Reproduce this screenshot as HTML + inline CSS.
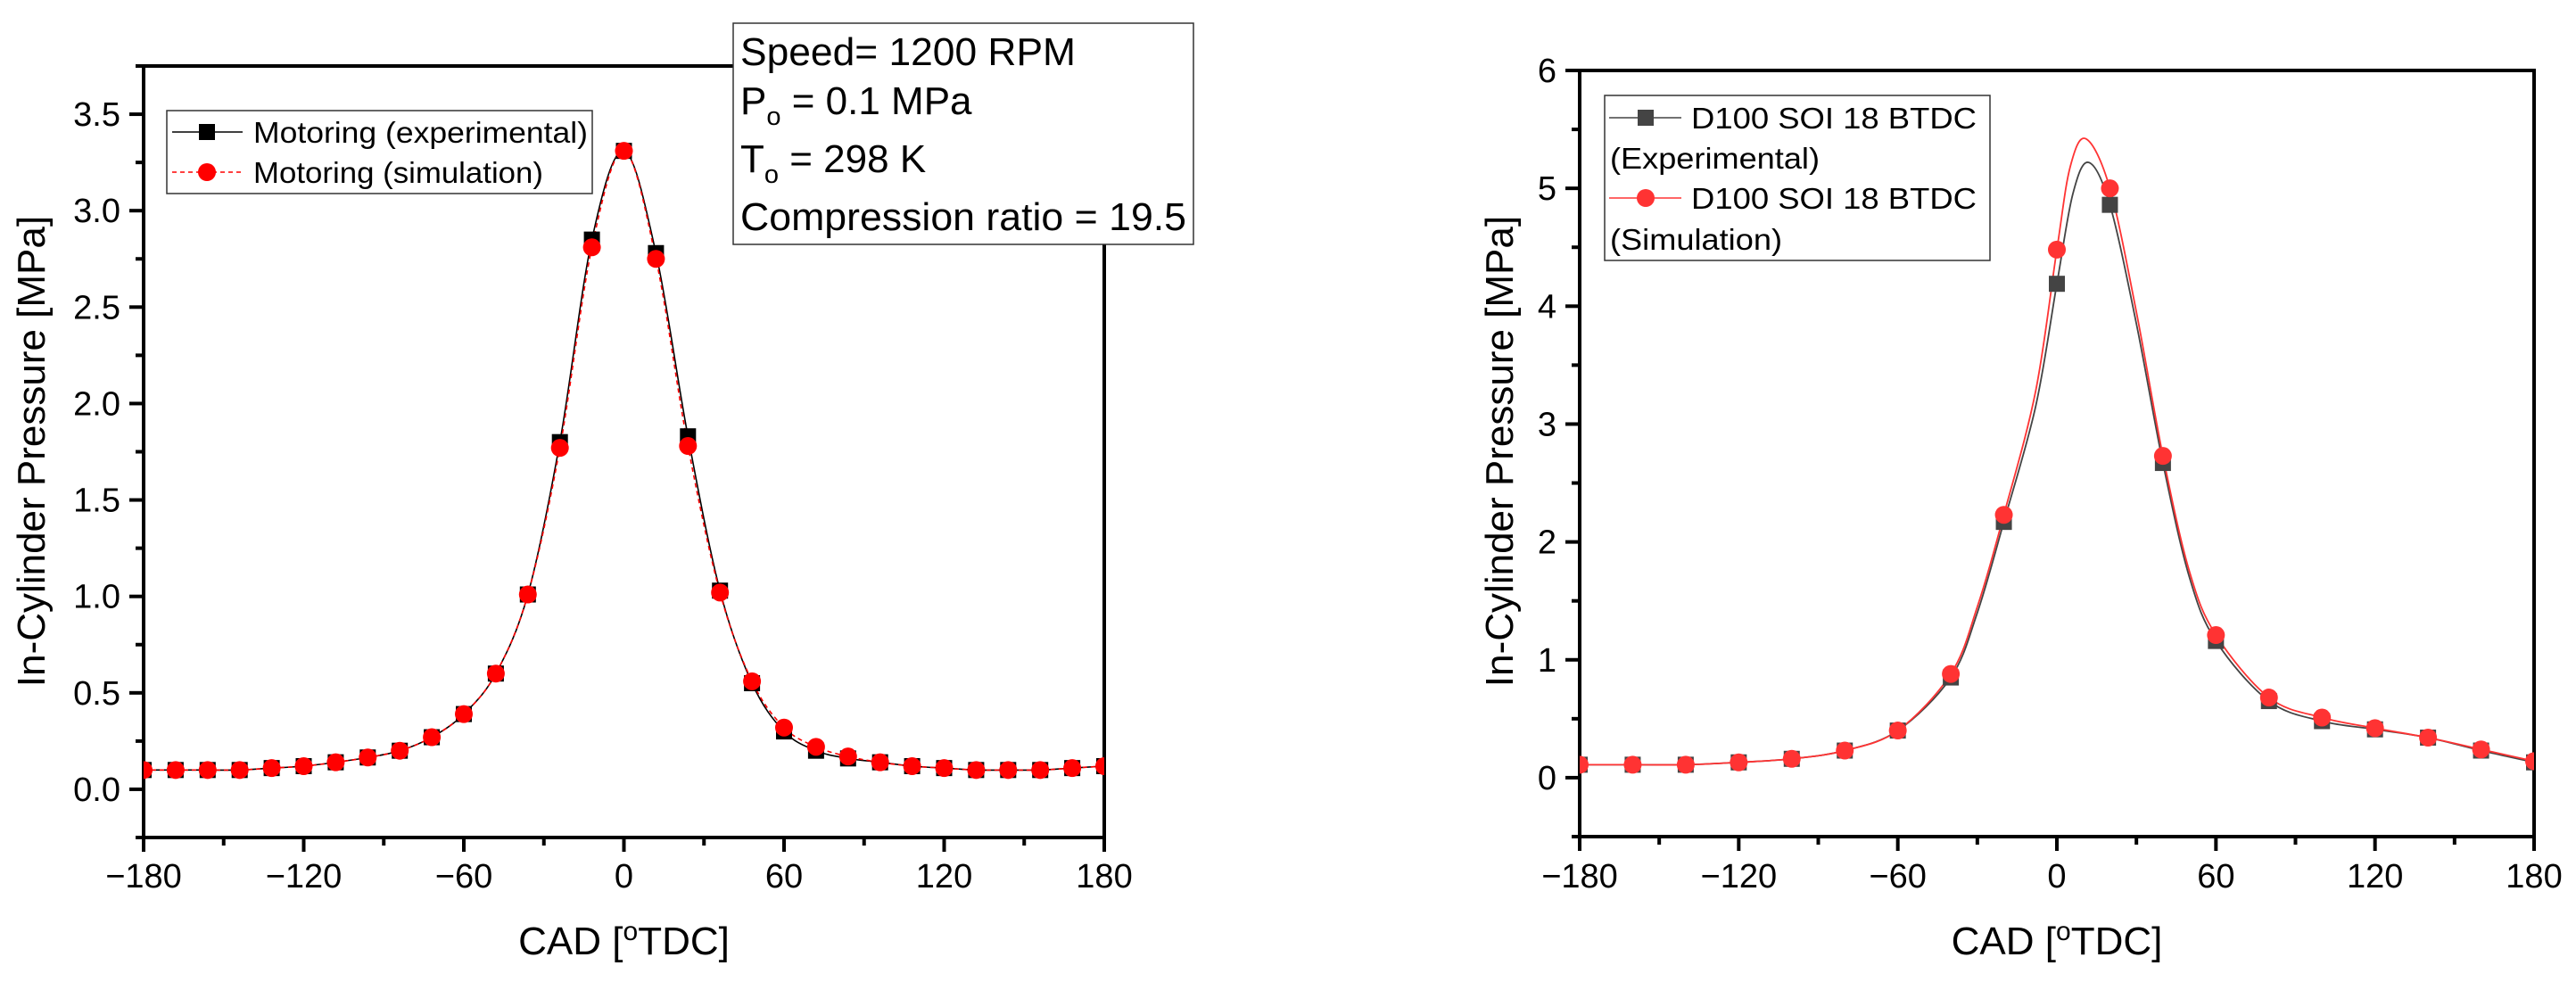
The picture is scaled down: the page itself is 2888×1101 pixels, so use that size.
<!DOCTYPE html>
<html><head><meta charset="utf-8"><title>In-Cylinder Pressure Charts</title>
<style>
html,body{margin:0;padding:0;background:#fff;}
svg{display:block;font-family:"Liberation Sans",Arial,sans-serif;}
</style></head>
<body>
<svg id="fig" width="2888" height="1101" viewBox="0 0 2888 1101" xmlns="http://www.w3.org/2000/svg">
<rect x="0" y="0" width="2888" height="1101" fill="#fff"/>
<g id="left"></g>
<g id="right"></g>
</svg>
<script>
// ---------- Left chart data ----------
const leftCad = [-180,-168,-156,-144,-132,-120,-108,-96,-84,-72,-60,-48,-36,-24,-12,0,12,24,36,48,60,72,84,96,108,120,132,144,156,168,180];
const leftExp = [0.10,0.10,0.10,0.10,0.11,0.12,0.14,0.165,0.20,0.27,0.39,0.60,1.01,1.80,2.85,3.31,2.78,1.83,1.03,0.55,0.30,0.20,0.16,0.14,0.12,0.11,0.10,0.10,0.10,0.11,0.12];
const leftSim = [0.10,0.10,0.10,0.10,0.11,0.12,0.14,0.165,0.20,0.27,0.39,0.60,1.01,1.77,2.81,3.31,2.75,1.78,1.02,0.56,0.32,0.22,0.17,0.14,0.12,0.11,0.10,0.10,0.10,0.11,0.12];
const leftYTicks = ["0.0","0.5","1.0","1.5","2.0","2.5","3.0","3.5"];
const leftXTicks = ["\u2212180","\u2212120","\u221260","0","60","120","180"];

// ---------- Right chart data ----------
const rightCad = [-180,-160,-140,-120,-100,-80,-60,-40,-20,0,20,40,60,80,100,120,140,160,180];
const rightExp = [0.11,0.11,0.11,0.13,0.16,0.23,0.40,0.85,2.17,4.19,4.86,2.67,1.16,0.65,0.48,0.41,0.34,0.23,0.13];
const rightSim = [0.11,0.11,0.11,0.13,0.16,0.23,0.40,0.88,2.23,4.48,5.00,2.73,1.21,0.68,0.51,0.42,0.34,0.24,0.14];
// extra curve nodes (line passes through these as well as the markers)
const rightExpCurveCad = [-30,-8,6,12,30,50];
const rightExpCurveVal = [1.40,3.15,4.95,5.22,3.85,1.70];
const rightSimCurveCad = [-30,-8,5,11,30,50];
const rightSimCurveVal = [1.45,3.28,5.18,5.42,3.95,1.75];
const rightYTicks = ["0","1","2","3","4","5","6"];
const rightXTicks = ["\u2212180","\u2212120","\u221260","0","60","120","180"];

const NS = "http://www.w3.org/2000/svg";
function mk(parent, tag, attrs){ const e=document.createElementNS(NS,tag); for(const k in attrs) e.setAttribute(k,attrs[k]); parent.appendChild(e); return e; }

function spline(pts){
  if(pts.length<2) return "";
  let d="M"+pts[0][0].toFixed(2)+","+pts[0][1].toFixed(2);
  for(let i=0;i<pts.length-1;i++){
    const p0=pts[i-1]||pts[i], p1=pts[i], p2=pts[i+1], p3=pts[i+2]||p2;
    const c1=[p1[0]+(p2[0]-p0[0])/6, p1[1]+(p2[1]-p0[1])/6];
    const c2=[p2[0]-(p3[0]-p1[0])/6, p2[1]-(p3[1]-p1[1])/6];
    d+=" C"+c1[0].toFixed(2)+","+c1[1].toFixed(2)+" "+c2[0].toFixed(2)+","+c2[1].toFixed(2)+" "+p2[0].toFixed(2)+","+p2[1].toFixed(2);
  }
  return d;
}
function merge(xa,ya,xb,yb){
  const arr=xa.map((x,i)=>[x,ya[i]]).concat(xb.map((x,i)=>[x,yb[i]]));
  arr.sort((a,b)=>a[0]-b[0]); return arr;
}

function axes(g, o){
  const {x0,x1,y0,y1,xmin,xmax,ymin,ymax}=o;
  const X=v=>x0+(v-xmin)/(xmax-xmin)*(x1-x0);
  const Y=v=>y1-(v-ymin)/(ymax-ymin)*(y1-y0);
  let e=mk(g,"rect",{x:x0,y:y0,width:x1-x0,height:y1-y0,fill:"none",stroke:"#000","stroke-width":4});
  
  
  for(let v=xmin; v<=xmax; v+=30){
    const major = (v%60===0);
    e=mk(g,"line",{x1:X(v),x2:X(v),y1:y1,y2:y1+(major?16:9),stroke:"#000","stroke-width":4});
    
    
  }
  o.xTicks.forEach((lab,i)=>{
    const v=-180+i*60;
    e=mk(g,"text",{x:X(v),y:995,"font-size":38,"text-anchor":"middle",fill:"#000"});
    e.textContent=lab;
    
    
  });
  for(let k=0;;k++){
    const v=ymin+k*o.minorStep; if(v>ymax+1e-9) break;
    const major=Math.abs(Math.round((v-o.majorStart)/o.majorStep)*o.majorStep-(v-o.majorStart))<1e-6;
    e=mk(g,"line",{x1:x0,x2:x0-(major?16:9),y1:Y(v),y2:Y(v),stroke:"#000","stroke-width":4});
    
    
  }
  o.yTicks.forEach((lab,i)=>{
    const v=o.majorStart+i*o.majorStep;
    e=mk(g,"text",{x:x0-26,y:Y(v)+13,"font-size":38,"text-anchor":"end",fill:"#000"});
    e.textContent=lab;
    
    
  });
  e=mk(g,"text",{x:(x0+x1)/2,y:1070,"font-size":44,"text-anchor":"middle",fill:"#000"});
  e.innerHTML='CAD [<tspan dy="-16" font-size="30">o</tspan><tspan dy="16">TDC]</tspan>';
  
  
  e=mk(g,"text",{x:0,y:0,"font-size":44,"text-anchor":"middle",fill:"#000",transform:"translate("+(o.ytx)+",506) rotate(-90)"});
  e.textContent="In-Cylinder Pressure [MPa]";
  
  
  return {X,Y};
}

function square(g,x,y,s,fill,name){
  const e=mk(g,"rect",{x:x-s/2,y:y-s/2,width:s,height:s,fill:fill});
  
  
  return e;
}
function circle(g,x,y,r,fill,name){
  const e=mk(g,"circle",{cx:x,cy:y,r:r,fill:fill});
  
  
  return e;
}

// ---------- LEFT ----------
(function(){
  const g=document.getElementById("left");
  const {X,Y}=axes(g,{x0:161,x1:1238,y0:74,y1:939,xmin:-180,xmax:180,ymin:-0.25,ymax:3.75,
    minorStep:0.25,majorStep:0.5,majorStart:0,yTicks:leftYTicks,xTicks:leftXTicks,ytx:50});
  const clip=mk(g,"clipPath",{id:"clipL"}); mk(clip,"rect",{x:161,y:74,width:1077,height:865});
  const pg=mk(g,"g",{"clip-path":"url(#clipL)"});
  let e=mk(pg,"path",{d:spline(leftCad.map((c,i)=>[X(c),Y(leftExp[i])])),fill:"none",stroke:"#000","stroke-width":1.6});
  
  
  e=mk(pg,"path",{d:spline(leftCad.map((c,i)=>[X(c),Y(leftSim[i])])),fill:"none",stroke:"#f00","stroke-width":1.6,"stroke-dasharray":"5,4"});
  
  
  leftCad.forEach((c,i)=>square(pg,X(c),Y(leftExp[i]),18,"#000","experimental-point"));
  leftCad.forEach((c,i)=>circle(pg,X(c),Y(leftSim[i]),10,"#f00","simulation-point"));
  const lg=mk(g,"g",{});  
  mk(lg,"rect",{x:187,y:124,width:477,height:93,fill:"#fff",stroke:"#333","stroke-width":1.5});
  mk(lg,"line",{x1:193,x2:272,y1:148,y2:148,stroke:"#000","stroke-width":1.5});
  square(lg,232,148,18,"#000","legend-marker-experimental");
  e=mk(lg,"text",{x:284,y:160,"font-size":33,textLength:375,lengthAdjust:"spacingAndGlyphs"}); e.textContent="Motoring (experimental)";
   
  mk(lg,"line",{x1:193,x2:272,y1:193,y2:193,stroke:"#f00","stroke-width":1.5,"stroke-dasharray":"5,4"});
  circle(lg,232,193,10,"#f00","legend-marker-simulation");
  e=mk(lg,"text",{x:284,y:205,"font-size":33,textLength:325,lengthAdjust:"spacingAndGlyphs"}); e.textContent="Motoring (simulation)";
   
  const bg=mk(g,"g",{});  
  mk(bg,"rect",{x:822,y:26,width:516,height:248,fill:"#fff",stroke:"#333","stroke-width":1.5});
  e=mk(bg,"text",{x:830,y:73,"font-size":44,textLength:376,lengthAdjust:"spacingAndGlyphs"}); e.textContent="Speed= 1200 RPM";
   
  e=mk(bg,"text",{x:830,y:128,"font-size":44}); e.innerHTML='P<tspan dy="12" font-size="29">o</tspan><tspan dy="-12"> = 0.1 MPa</tspan>';
   
  e=mk(bg,"text",{x:830,y:193,"font-size":44}); e.innerHTML='T<tspan dy="12" font-size="29">o</tspan><tspan dy="-12"> = 298 K</tspan>';
   
  e=mk(bg,"text",{x:830,y:258,"font-size":44,textLength:500,lengthAdjust:"spacingAndGlyphs"}); e.textContent="Compression ratio = 19.5";
   
})();

// ---------- RIGHT ----------
(function(){
  const g=document.getElementById("right");
  const {X,Y}=axes(g,{x0:1771,x1:2841,y0:79,y1:938,xmin:-180,xmax:180,ymin:-0.5,ymax:6,
    minorStep:0.5,majorStep:1,majorStart:0,yTicks:rightYTicks,xTicks:rightXTicks,ytx:1696});
  const clip=mk(g,"clipPath",{id:"clipR"}); mk(clip,"rect",{x:1771,y:79,width:1070,height:859});
  const pg=mk(g,"g",{"clip-path":"url(#clipR)"});
  const ce=merge(rightCad,rightExp,rightExpCurveCad,rightExpCurveVal);
  const cs=merge(rightCad,rightSim,rightSimCurveCad,rightSimCurveVal);
  let e=mk(pg,"path",{d:spline(ce.map(p=>[X(p[0]),Y(p[1])])),fill:"none",stroke:"#444","stroke-width":1.8});
  
  
  e=mk(pg,"path",{d:spline(cs.map(p=>[X(p[0]),Y(p[1])])),fill:"none",stroke:"#f33","stroke-width":1.8});
  
  
  rightCad.forEach((c,i)=>square(pg,X(c),Y(rightExp[i]),18,"#444","experimental-point"));
  rightCad.forEach((c,i)=>circle(pg,X(c),Y(rightSim[i]),10,"#f33","simulation-point"));
  const lg=mk(g,"g",{});  
  mk(lg,"rect",{x:1799,y:107,width:432,height:185,fill:"#fff",stroke:"#333","stroke-width":1.5});
  mk(lg,"line",{x1:1804,x2:1885,y1:132,y2:132,stroke:"#444","stroke-width":1.5});
  square(lg,1845,132,18,"#444","legend-marker-experimental");
  e=mk(lg,"text",{x:1896,y:144,"font-size":33,textLength:320,lengthAdjust:"spacingAndGlyphs"}); e.textContent="D100 SOI 18 BTDC";
   
  e=mk(lg,"text",{x:1805,y:189,"font-size":33,textLength:235,lengthAdjust:"spacingAndGlyphs"}); e.textContent="(Experimental)";
   
  mk(lg,"line",{x1:1804,x2:1885,y1:222,y2:222,stroke:"#f33","stroke-width":1.5});
  circle(lg,1845,222,10,"#f33","legend-marker-simulation");
  e=mk(lg,"text",{x:1896,y:234,"font-size":33,textLength:320,lengthAdjust:"spacingAndGlyphs"}); e.textContent="D100 SOI 18 BTDC";
   
  e=mk(lg,"text",{x:1805,y:280,"font-size":33,textLength:193,lengthAdjust:"spacingAndGlyphs"}); e.textContent="(Simulation)";
   
})();
</script>
</body></html>
